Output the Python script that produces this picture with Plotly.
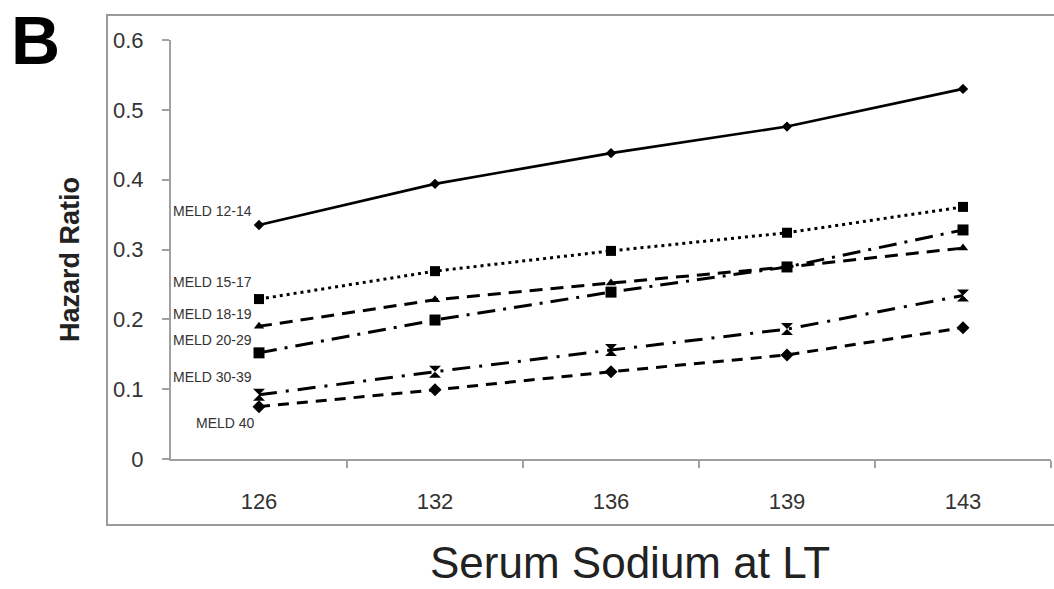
import plotly.graph_objects as go

categories = ["126", "132", "136", "139", "143"]
series_names = ["MELD 12-14", "MELD 15-17", "MELD 18-19", "MELD 20-29", "MELD 30-39", "MELD 40"]
meld_12_14 = [0.335, 0.394, 0.438, 0.476, 0.530]
meld_15_17 = [0.229, 0.269, 0.298, 0.324, 0.361]
meld_18_19 = [0.190, 0.228, 0.252, 0.275, 0.302]
meld_20_29 = [0.152, 0.199, 0.239, 0.275, 0.328]
meld_30_39 = [0.092, 0.125, 0.156, 0.186, 0.234]
meld_40 = [0.075, 0.099, 0.125, 0.149, 0.188]

values = [meld_12_14, meld_15_17, meld_18_19, meld_20_29, meld_30_39, meld_40]
symbols = ["diamond", "square", "triangle-up", "square", "hourglass", "diamond"]
msizes = [8, 10, 9, 11, 12, 10]
dashes = ["solid", "3px,4px", "13px,8px", "18px,8px,3px,8px", "18px,9px,3px,9px", "11px,8px"]
widths = [2.6, 3, 3, 3, 3, 3]

# label positions (x index, y value) next to the left end of each line
label_x = [-0.5, -0.5, -0.5, -0.5, -0.5, -0.37]
label_y = [0.355, 0.253, 0.207, 0.171, 0.117, 0.051]

xi = list(range(len(categories)))

W, H = 1054, 589
# pixel geometry of plot area
L, R, T, B = 171, 1051, 40, 459
PW, PH = R - L, B - T


def px(x):
    return (x - L) / PW


def py(y):
    return (B - y) / PH


fig = go.Figure()
for name, vals, sym, ms, dsh, w in zip(series_names, values, symbols, msizes, dashes, widths):
    fig.add_trace(go.Scatter(
        x=xi, y=vals, name=name, mode="lines+markers",
        line=dict(color="black", width=w, dash=dsh),
        marker=dict(symbol=sym, size=ms, color="black"),
        showlegend=False,
    ))

for name, lx, ly in zip(series_names, label_x, label_y):
    fig.add_annotation(x=lx, y=ly, xref="x", yref="y", text=name, showarrow=False,
                       xanchor="left", yanchor="middle",
                       font=dict(family="Liberation Sans Narrow, Liberation Sans, Arial", size=14, color="#333"))

fig.add_annotation(x=px(35), y=py(0), xref="paper", yref="paper", text="<b>B</b>", showarrow=False,
                   xanchor="center", yanchor="top",
                   font=dict(family="Liberation Sans, Arial", size=68, color="black"))

# x axis title
fig.add_annotation(x=px(630), y=py(589), xref="paper", yref="paper", text="Serum Sodium at LT",
                   showarrow=False, xanchor="center", yanchor="bottom",
                   font=dict(family="Liberation Sans, Arial", size=44, color="#222"))

# y axis title
fig.add_annotation(x=px(70), y=py(260), xref="paper", yref="paper", text="<b>Hazard Ratio</b>",
                   showarrow=False, xanchor="center", yanchor="middle", textangle=-90,
                   font=dict(family="Liberation Sans, Arial", size=27, color="#222"))

# outer frame
fig.add_shape(type="rect", xref="paper", yref="paper",
              x0=px(107), x1=px(1070), y0=py(525), y1=py(15),
              line=dict(color="#9a9a9a", width=2), fillcolor="rgba(0,0,0,0)", layer="below")

fig.update_layout(
    width=W, height=H,
    margin=dict(l=L, r=W - R, t=T, b=H - B),
    paper_bgcolor="white", plot_bgcolor="white",
    xaxis=dict(
        range=[-0.5, 4.5], tickmode="array", tickvals=xi, ticktext=categories,
        showgrid=False, zeroline=False, showline=True, linecolor="#a0a0a0", linewidth=2,
        ticks="", automargin=False, ticklabelstandoff=22,
        tickfont=dict(family="Liberation Sans, Arial", size=22, color="#333"),
        minor=dict(tickmode="array", tickvals=[0.5, 1.5, 2.5, 3.5, 4.5], ticks="outside",
                   ticklen=7, tickcolor="#a0a0a0", tickwidth=1.5),
    ),
    yaxis=dict(
        range=[0, 0.6], tickmode="array", tickvals=[0, 0.1, 0.2, 0.3, 0.4, 0.5, 0.6],
        ticktext=["0", "0.1", "0.2", "0.3", "0.4", "0.5", "0.6"],
        showgrid=False, zeroline=False, showline=True, linecolor="#a0a0a0", linewidth=2,
        ticks="outside", ticklen=7, tickcolor="#a0a0a0", tickwidth=1.5,
        automargin=False, ticklabelstandoff=14,
        tickfont=dict(family="Liberation Sans, Arial", size=22, color="#333"),
    ),
)

fig.write_html("out.html", config={"displayModeBar": False},
               post_script="document.body.style.margin='0';document.body.style.overflow='hidden';")
